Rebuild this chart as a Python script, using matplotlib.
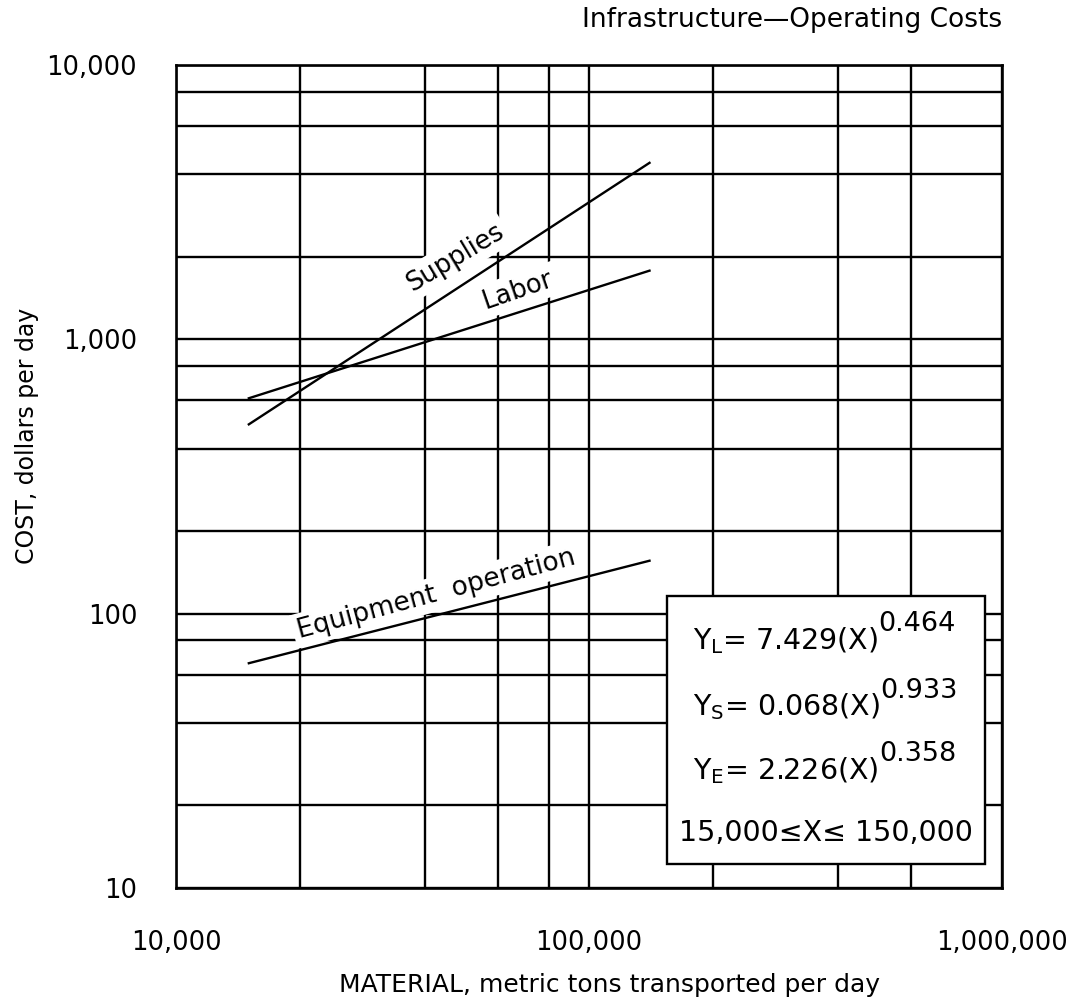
import matplotlib
matplotlib.use("Agg")
import matplotlib.pyplot as plt
from matplotlib.patches import Rectangle
from matplotlib.ticker import FixedLocator, NullFormatter

# material transported (metric tons/day), read at the ends of each line
x_tons = [15000, 140000]
labor = [610, 1780]
supplies = [490, 4400]
equipment = [66, 156]

x_major = [10000, 100000, 1000000]
x_major_labels = ["10,000", "100,000", "1,000,000"]
x_minor = [20000, 40000, 60000, 80000, 200000, 400000, 600000]
y_major = [10, 100, 1000, 10000]
y_major_labels = ["10", "100", "1,000", "10,000"]
y_minor = [20, 40, 60, 80, 200, 400, 600, 800, 2000, 4000, 6000, 8000]

equations = [("Y$_\\mathregular{L}$= 7.429(X)", "0.464"),
             ("Y$_\\mathregular{S}$= 0.068(X)", "0.933"),
             ("Y$_\\mathregular{E}$= 2.226(X)", "0.358")]
range_text = "15,000\u2264X\u2264 150,000"

plt.rcParams["font.family"] = ["DejaVu Sans"]

fig = plt.figure(figsize=(10.87, 10.08), dpi=100)
ax = fig.add_axes([0.162, 0.119, 0.760, 0.8165])
ax.set_xscale("log")
ax.set_yscale("log")
ax.set_xlim(10000, 1000000)
ax.set_ylim(10, 10000)

ax.xaxis.set_major_locator(FixedLocator(x_major))
ax.xaxis.set_minor_locator(FixedLocator(x_minor))
ax.yaxis.set_major_locator(FixedLocator(y_major))
ax.yaxis.set_minor_locator(FixedLocator(y_minor))
ax.set_xticklabels(x_major_labels)
ax.set_yticklabels(y_major_labels)
ax.xaxis.set_minor_formatter(NullFormatter())
ax.yaxis.set_minor_formatter(NullFormatter())
ax.tick_params(which="both", length=0)
ax.tick_params(axis="x", pad=30, labelsize=18.5)
ax.tick_params(axis="y", pad=28, labelsize=18.5)
ax.grid(True, which="both", color="black", lw=1.7)
ax.set_axisbelow(True)
for s in ax.spines.values():
    s.set_linewidth(1.9)

ax.plot(x_tons, labor, color="black", lw=1.7, zorder=4)
ax.plot(x_tons, supplies, color="black", lw=1.7, zorder=4)
ax.plot(x_tons, equipment, color="black", lw=1.7, zorder=4)

white = dict(facecolor="white", edgecolor="none", pad=3)
ax.text(47400, 1980, "Supplies", rotation=31, rotation_mode="anchor",
        ha="center", va="center", fontsize=18.5, bbox=white, zorder=3)
ax.text(67300, 1510, "Labor", rotation=19, rotation_mode="anchor",
        ha="center", va="center", fontsize=18.5, bbox=white, zorder=3)
ax.text(42600, 118, "Equipment  operation", rotation=15, rotation_mode="anchor",
        ha="center", va="center", fontsize=19, bbox=white, zorder=3)

# equation box
ax.add_patch(Rectangle((0.594, 0.029), 0.385, 0.326, transform=ax.transAxes,
                       facecolor="white", edgecolor="black", lw=1.7, zorder=5))
eq_y = [0.301, 0.220, 0.143]
for (main, exp), yy in zip(equations, eq_y):
    t = ax.text(0.626, yy, main, transform=ax.transAxes, ha="left", va="center",
                fontsize=20.5, zorder=6)
    ax.annotate(exp, xy=(1.0, 0.6), xycoords=t, ha="left", va="bottom",
                fontsize=19.5, zorder=6)
ax.text(0.787, 0.067, range_text, transform=ax.transAxes, ha="center",
        va="center", fontsize=20.5, zorder=6)

fig.text(0.922, 0.980, "Infrastructure\u2014Operating Costs", ha="right",
         va="center", fontsize=19)
fig.text(0.561, 0.023, "MATERIAL, metric tons transported per day",
         ha="center", va="center", fontsize=18)
fig.text(0.025, 0.568, "COST, dollars per day", rotation=90,
         ha="center", va="center", fontsize=17)

fig.savefig("out.png", dpi=100)
